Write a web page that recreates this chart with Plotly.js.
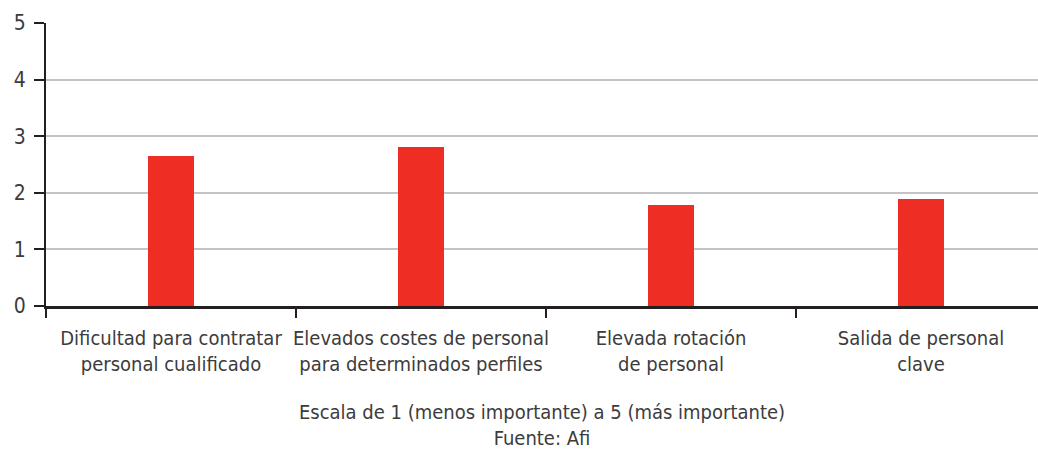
<!DOCTYPE html>
<html><head><meta charset="utf-8">
<script src="https://cdn.plot.ly/plotly-3.0.1.min.js"></script>
<style>html,body{margin:0;padding:0;background:#fff}#chart{width:1038px;height:450px}</style>
</head><body><div id="chart"></div>
<script>
const categories = [
  "Dificultad para contratar<br>personal cualificado",
  "Elevados costes de personal<br>para determinados perfiles",
  "Elevada rotación<br>de personal",
  "Salida de personal<br>clave"
];
const values = [2.65, 2.81, 1.78, 1.89];
const yTicks = [0, 1, 2, 3, 4, 5];
const xTitle = "Escala de 1 (menos importante) a 5 (más importante)<br>Fuente: Afi";

const fontFam = '"DejaVu Sans Condensed", "Liberation Sans Narrow", sans-serif';
const trace = {
  type: 'bar', x: categories, y: values,
  marker: {color: '#EE2E24', line: {width: 0}},
  width: 0.184, hoverinfo: 'skip'
};
const layout = {
  width: 1038, height: 450,
  margin: {l: 46, r: 0, t: 23, b: 144},
  paper_bgcolor: '#fff', plot_bgcolor: '#fff',
  showlegend: false,
  font: {family: fontFam, size: 20, color: '#3c3c3c'},
  xaxis: {
    type: 'category', range: [-0.5, 3.468],
    tickson: 'boundaries', ticks: 'outside', ticklen: 9, tickwidth: 2, tickcolor: '#231f20',
    tickangle: 0, ticklabelstandoff: 12,
    showline: true, linecolor: '#231f20', linewidth: 2.5,
    showgrid: false, zeroline: false,
    tickfont: {family: fontFam, size: 20, color: '#3c3c3c'},
    title: {text: xTitle, standoff: 32, font: {family: fontFam, size: 20, color: '#3c3c3c'}}
  },
  yaxis: {
    range: [0, 5], tickvals: yTicks, ticktext: yTicks.map(String),
    ticks: 'outside', ticklen: 10, tickwidth: 2, tickcolor: '#231f20',
    ticklabelstandoff: 4,
    showline: true, linecolor: '#231f20', linewidth: 2,
    showgrid: true, gridcolor: '#c4c4c8', gridwidth: 2,
    zeroline: false,
    tickfont: {family: fontFam, size: 21, color: '#3c3c3c'}
  },
  bargap: 0
};
Plotly.newPlot('chart', [trace], layout, {displayModeBar: false, staticPlot: true});
</script></body></html>
